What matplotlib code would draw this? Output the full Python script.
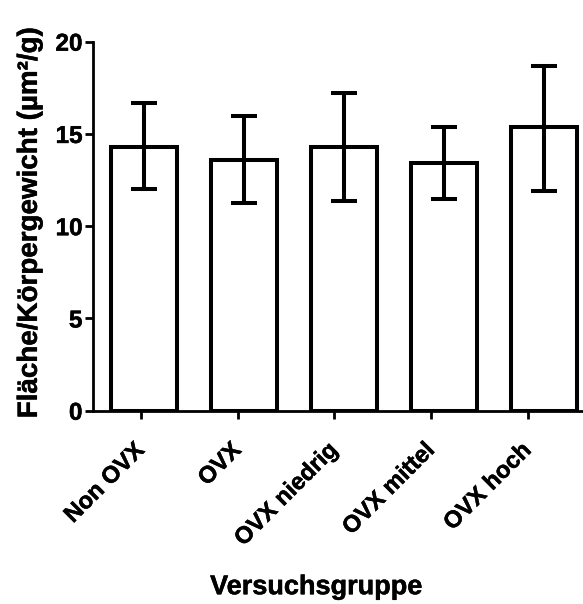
import numpy as np
import matplotlib
matplotlib.use("Agg")
import matplotlib.pyplot as plt
import matplotlib.patheffects as pe

plt.rcParams["font.family"] = ["Liberation Sans", "DejaVu Sans"]
plt.rcParams["font.weight"] = "bold"

gruppen = ["Non OVX", "OVX", "OVX niedrig", "OVX mittel", "OVX hoch"]
mittel = [14.3, 13.6, 14.3, 13.4, 15.35]
oben = [16.65, 15.95, 17.2, 15.35, 18.7]   # obere Fehlergrenze
unten = [12.0, 11.25, 11.35, 11.45, 11.9]  # untere Fehlergrenze

x = np.arange(len(gruppen))
mittel = np.array(mittel)
fehler = [mittel - np.array(unten), np.array(oben) - mittel]

fig = plt.figure(figsize=(5.83, 6.04), dpi=100)
ax = fig.add_axes([0.16, 0.32, 0.84, 0.611])

ax.bar(x, mittel, width=0.66, color="white", edgecolor="black",
       linewidth=2.9, zorder=2)
ax.errorbar(x, mittel, yerr=fehler, fmt="none", ecolor="black",
            elinewidth=2.9, capsize=9.6, capthick=2.9, zorder=3)

ax.set_xlim(-0.512, 4.385)
ax.set_ylim(0, 20)
ax.set_yticks([0, 5, 10, 15, 20])

# Prism setzt die Ticks leicht versetzt zu den Balken
ax.set_xticks(x * 0.967 - 0.035)
ax.set_xticklabels(gruppen, rotation=45, ha="right", va="center",
                   rotation_mode="anchor", fontsize=17, fontweight="bold")
for lab in ax.get_yticklabels():
    lab.set_fontsize(17.5)
    lab.set_fontweight("bold")

for s in ["top", "right"]:
    ax.spines[s].set_visible(False)
for s in ["left", "bottom"]:
    ax.spines[s].set_linewidth(2.0)
ax.tick_params(axis="both", width=2.0, length=5.8, pad=2)
ax.tick_params(axis="x", pad=20)

ax.set_ylabel("Fläche/Körpergewicht (µm²/g)", fontsize=20, fontweight="bold")
ax.yaxis.set_label_coords(-0.103, 0.509)
ax.set_xlabel("Versuchsgruppe", fontsize=19.5, fontweight="bold")
ax.xaxis.set_label_coords(0.455, -0.443)

# etwas kräftigere Schrift wie im Prism-Export
dick = [pe.withStroke(linewidth=0.35, foreground="black")]
for t in ax.get_xticklabels() + ax.get_yticklabels() + [ax.xaxis.label, ax.yaxis.label]:
    t.set_path_effects(dick)

fig.savefig("out.png", dpi=100)
